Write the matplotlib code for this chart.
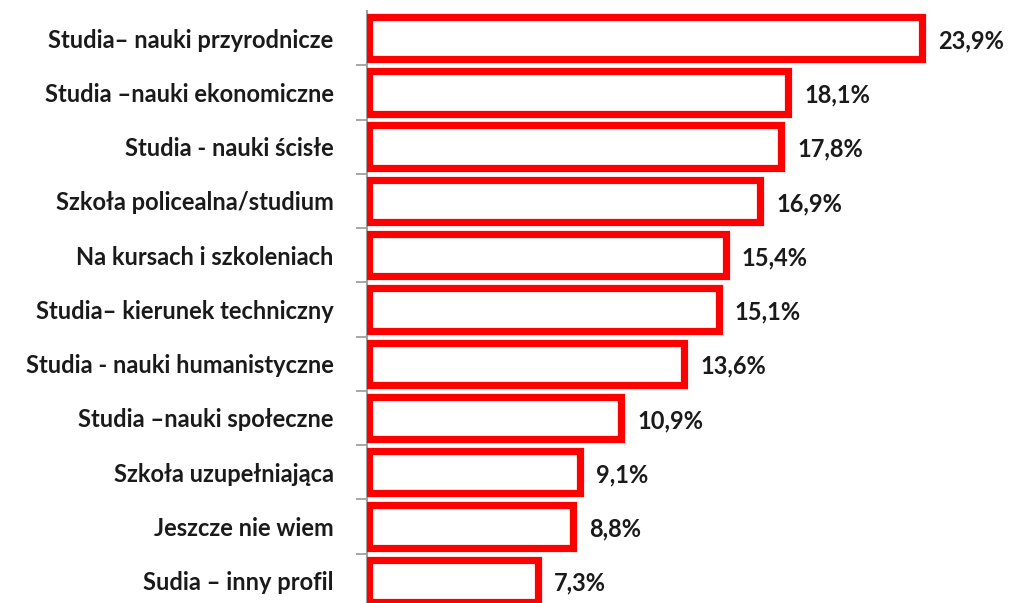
import matplotlib
matplotlib.use('Agg')
import matplotlib.pyplot as plt
import matplotlib.patheffects as pe
import numpy as np

categories = [
    'Studia\u2013 nauki przyrodnicze',
    'Studia \u2013nauki ekonomiczne',
    'Studia - nauki \u015bcis\u0142e',
    'Szko\u0142a policealna/studium',
    'Na kursach i szkoleniach',
    'Studia\u2013 kierunek techniczny',
    'Studia - nauki humanistyczne',
    'Studia \u2013nauki spo\u0142eczne',
    'Szko\u0142a uzupe\u0142niaj\u0105ca',
    'Jeszcze nie wiem',
    'Sudia \u2013 inny profil',
]
values = [23.9, 18.1, 17.8, 16.9, 15.4, 15.1, 13.6, 10.9, 9.1, 8.8, 7.3]
value_labels = ['23,9%', '18,1%', '17,8%', '16,9%', '15,4%', '15,1%',
                '13,6%', '10,9%', '9,1%', '8,8%', '7,3%']

plt.rcParams['font.family'] = ['Lato', 'DejaVu Sans']

fig = plt.figure(figsize=(10.10, 6.03), dpi=100)
ax = fig.add_axes([367 / 1010, -0.008, 1 - 367 / 1010, 1 - 11 / 603 + 0.008])

y = np.arange(len(categories))
bars = ax.barh(y, values, height=0.78, left=0.1, color='white', edgecolor='#ff0000',
               linewidth=5.2, zorder=3)
for b in bars:
    b.set_path_effects([pe.SimplePatchShadow(offset=(2, -2), shadow_rgbFace='#b0b0b0', alpha=0.5),
                        pe.Normal()])

for yi, v, lab in zip(y, values, value_labels):
    ax.text(v + 0.8, yi + 0.05, lab, va='center', ha='left', fontsize=17,
            fontweight='bold', color='#1a1a1a')

ax.set_xlim(0, 27.8)
ax.set_ylim(len(categories) - 0.5, -0.5)

ax.set_yticks(y)
ax.set_yticklabels(categories, fontsize=17, fontweight='bold', color='#1a1a1a')
ax.tick_params(axis='y', which='major', length=0, pad=24)
ax.set_yticks(y[:-1] + 0.5, minor=True)
ax.tick_params(axis='y', which='minor', length=8, width=1.3, color='#a0a0a0')
ax.set_xticks([])

for s in ['top', 'right', 'bottom']:
    ax.spines[s].set_visible(False)
ax.spines['left'].set_color('#a0a0a0')
ax.spines['left'].set_linewidth(1.5)

fig.savefig('out.png', dpi=100, facecolor='white')
